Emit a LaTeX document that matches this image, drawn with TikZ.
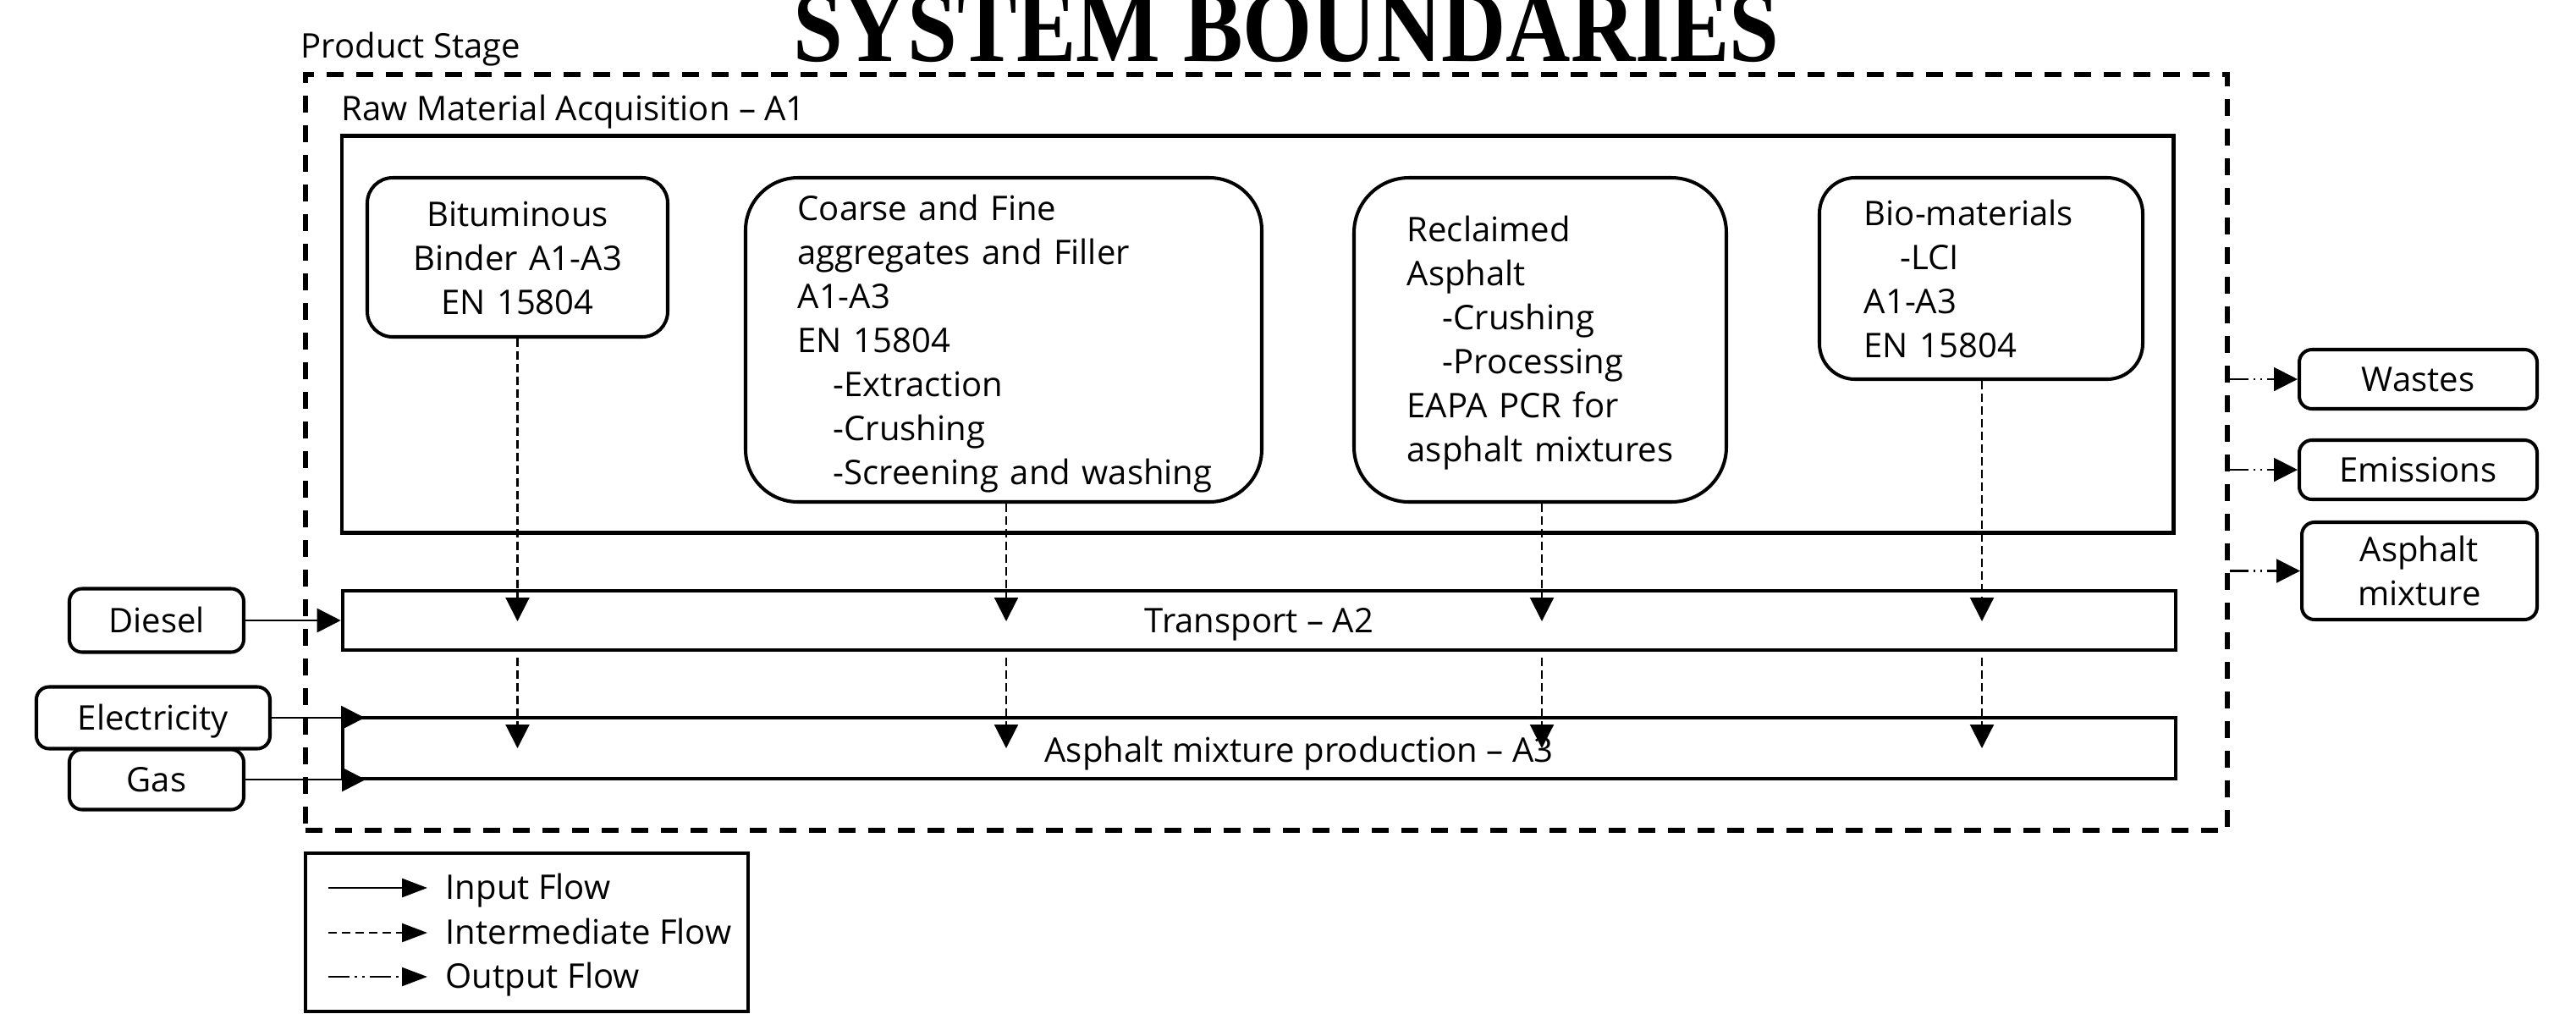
\documentclass[tikz,border=0pt]{standalone}
\usepackage{fontspec}
\usepackage{graphicx}
\setmainfont{Open Sans}
\newfontfamily\titlefont{Liberation Serif}
\usetikzlibrary{arrows.meta}
\begin{document}
\begin{tikzpicture}[x=1cm,y=-1cm,
  every node/.style={font=\fontsize{11.4pt}{14.8pt}\selectfont, inner sep=0pt},
  rbox/.style={draw, line width=1.15pt, rounded corners=#1},
  rbox/.default=0.15cm,
  onel/.style={text height=0.28cm, text depth=0cm},
  stagebox/.style={draw, line width=1.3pt},
  tiphead/.style={-{Triangle[length=0.28cm,width=0.28cm]}},
  lghead/.style={-{Triangle[length=0.3cm,width=0.22cm]}},
  inflow/.style={tiphead, line width=0.8pt},
  midflow/.style={tiphead, line width=0.6pt, dash pattern=on 0.1cm off 0.05cm},
  outflow/.style={tiphead, line width=0.6pt, dash pattern=on 0.22cm off 0.06cm on 0.02cm off 0.06cm on 0.02cm off 0.06cm},
]
\useasboundingbox (0,0) rectangle (30.44,11.97);

% title and headings
\node[anchor=base] (title) at (15.20,0.72) {\titlefont\bfseries\fontsize{34.4pt}{40pt}\selectfont\scalebox{0.874}[1]{SYSTEM BOUNDARIES}};
\node[anchor=base west] (ps) at (3.55,0.68) {Product Stage};
\node[anchor=base west] (rma) at (4.03,1.42) {Raw Material Acquisition – A1};

% frames
\node[draw, line width=1.7pt, dash pattern=on 0.20cm off 0.15cm, minimum width=22.71cm, minimum height=8.93cm] (stage) at (14.965,5.345) {};
\node[draw, line width=1.42pt, minimum width=21.64cm, minimum height=4.69cm] (a1) at (14.86,3.945) {};

% material boxes
\node[rbox=0.3cm, minimum width=3.55cm, minimum height=1.88cm] (binder) at (6.115,3.04) {};
\node[rbox=0.62cm, minimum width=6.10cm, minimum height=3.83cm] (coarse) at (11.86,4.015) {};
\node[rbox=0.65cm, minimum width=4.40cm, minimum height=3.83cm] (reclaimed) at (18.20,4.015) {};
\node[rbox=0.42cm, minimum width=3.82cm, minimum height=2.38cm] (bio) at (23.41,3.29) {};

\node[anchor=base, text width=3.55cm, align=center] (binderT) at (6.115,2.67) {Bituminous\\Binder A1-A3\\EN 15804};
\node[anchor=base west, text width=5.4cm, align=left] (coarseT) at (9.42,2.60) {Coarse and Fine\\aggregates and Filler\\A1-A3\\EN 15804\\\hspace*{0.42cm}-Extraction\\\hspace*{0.42cm}-Crushing\\\hspace*{0.42cm}-Screening and washing};
\node[anchor=base west, text width=3.7cm, align=left] (reclaimedT) at (16.62,2.85) {Reclaimed\\Asphalt\\\hspace*{0.42cm}-Crushing\\\hspace*{0.42cm}-Processing\\EAPA PCR for\\asphalt mixtures};
\node[anchor=base west, text width=3.2cm, align=left] (bioT) at (22.02,2.66) {Bio-materials\\\hspace*{0.43cm}-LCI\\A1-A3\\EN 15804};

% process bars
\node[stagebox, onel, minimum width=21.66cm, minimum height=0.70cm] (transport) at (14.88,7.33) {Transport – A2};
\node[stagebox, minimum width=21.66cm, minimum height=0.72cm] (production) at (14.88,8.84) {};
\node[anchor=base] (plabel) at (15.35,9.00) {Asphalt mixture production – A3};

% inputs
\node[rbox, onel, minimum width=2.06cm, minimum height=0.75cm] (diesel) at (1.85,7.33) {Diesel};
\node[rbox, onel, minimum width=2.76cm, minimum height=0.73cm] (elec) at (1.81,8.48) {Electricity};
\node[rbox, onel, minimum width=2.06cm, minimum height=0.71cm] (gas) at (1.85,9.21) {Gas};

% outputs
\node[rbox, onel, minimum width=2.81cm, minimum height=0.70cm] (wastes) at (28.575,4.48) {Wastes};
\node[rbox, onel, minimum width=2.81cm, minimum height=0.70cm] (emissions) at (28.575,5.55) {Emissions};
\node[rbox, align=center, minimum width=2.78cm, minimum height=1.15cm] (asphalt) at (28.59,6.745) {Asphalt\\mixture};

% intermediate flows
\coordinate (t1) at (6.115,7.34);  \coordinate (s1) at (6.115,7.77);  \coordinate (p1) at (6.115,8.84);
\coordinate (t2) at (11.89,7.34);  \coordinate (s2) at (11.89,7.77);  \coordinate (p2) at (11.89,8.84);
\coordinate (t3) at (18.22,7.34);  \coordinate (s3) at (18.22,7.77);  \coordinate (p3) at (18.22,8.84);
\coordinate (t4) at (23.42,7.34);  \coordinate (s4) at (23.42,7.77);  \coordinate (p4) at (23.42,8.84);
\draw[midflow] (binder.south) -- (t1);
\draw[midflow] (s1) -- (p1);
\draw[midflow] (coarse.south -| t2) -- (t2);
\draw[midflow] (s2) -- (p2);
\draw[midflow] (reclaimed.south -| t3) -- (t3);
\draw[midflow] (s3) -- (p3);
\draw[midflow] (bio.south -| t4) -- (t4);
\draw[midflow] (s4) -- (p4);

% input flows
\coordinate (ein) at (4.31,8.48);
\coordinate (gin) at (4.32,9.21);
\draw[inflow] (diesel.east) -- (transport.west);
\draw[inflow] (elec.east) -- (ein);
\draw[inflow] (gas.east) -- (gin);

% output flows
\draw[outflow] (stage.east |- wastes.west) -- (wastes.west);
\draw[outflow] (stage.east |- emissions.west) -- (emissions.west);
\draw[outflow] (stage.east |- asphalt.west) -- (asphalt.west);

% legend
\node[draw, line width=1.4pt, minimum width=5.23cm, minimum height=1.87cm] (legend) at (6.225,11.015) {};
\coordinate (la1) at (3.88,10.49); \coordinate (lb1) at (5.05,10.49);
\coordinate (la2) at (3.88,11.02); \coordinate (lb2) at (5.05,11.02);
\coordinate (la3) at (3.88,11.54); \coordinate (lb3) at (5.05,11.54);
\draw[lghead, line width=0.8pt] (la1) -- (lb1);
\draw[lghead, line width=0.6pt, dash pattern=on 0.1cm off 0.06cm] (la2) -- (lb2);
\draw[lghead, line width=0.6pt, dash pattern=on 0.25cm off 0.06cm on 0.03cm off 0.06cm on 0.03cm off 0.06cm] (la3) -- (lb3);
\node[anchor=base west] (lt1) at (5.26,10.62) {Input Flow};
\node[anchor=base west] (lt2) at (5.26,11.15) {Intermediate Flow};
\node[anchor=base west] (lt3) at (5.26,11.67) {Output Flow};
\end{tikzpicture}
\end{document}
